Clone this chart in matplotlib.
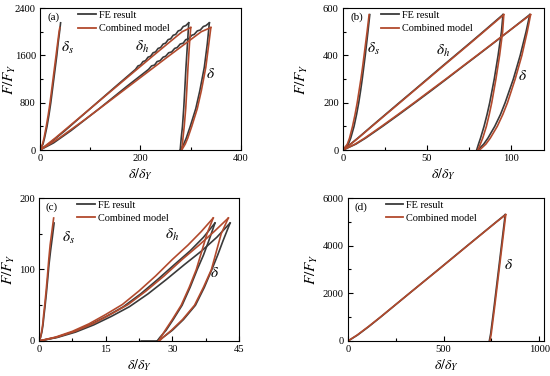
import matplotlib
matplotlib.use('Agg')
import matplotlib.pyplot as plt
from matplotlib.ticker import MultipleLocator

plt.rcParams['font.family'] = ['Liberation Serif', 'DejaVu Serif']
plt.rcParams['mathtext.fontset'] = 'stix'

FE_COLOR = '#3a3a3a'
MODEL_COLOR = '#b24a2d'

# ---------------- Panel (a) ----------------
a_F_FE = [0, 100, 200, 400, 600, 800, 1000, 1200, 1400, 1600, 1800, 2000, 2150]
a_ds_FE = [0, 6, 9, 14, 18, 21.5, 24.5, 27.5, 30.5, 33.5, 36, 39, 41]
a_F_M = [0, 100, 200, 400, 600, 800, 1000, 1200, 1400, 1600, 1800, 2000, 2070]
a_ds_M = [0, 5, 8, 12.5, 16.5, 20, 23, 26, 29, 32, 35, 38, 39.5]

a_F_FE_load = [0, 120, 330, 700, 1070, 1362, 1421, 1436, 1495, 1510, 1569, 1584, 1643, 1658,
               1717, 1732, 1791, 1806, 1865, 1880, 1939, 1954, 2013, 2028, 2087, 2102, 2150]
a_dh_FE_load = [0, 20, 50, 100, 150, 190, 195, 200, 205, 210, 215, 220, 225, 230, 235, 240,
                245, 250, 255, 260, 265, 270, 275, 280, 285, 290, 296]
a_d_FE_load = [0, 27, 62, 118, 172, 216, 222, 228, 233, 239, 245, 250, 256, 262, 268, 273,
               279, 285, 290, 296, 302, 307, 313, 319, 325, 330, 337]
a_F_M_load = [0, 200, 500, 800, 1200, 1600, 2000, 2070]
a_dh_M_load = [0, 30, 72, 114, 170, 226, 283, 300]
a_d_M_load = [0, 38, 87, 134, 196, 258, 321, 340]

a_Fu_FE = [2150, 1800, 1400, 1000, 700, 400, 200, 100, 0]
a_dh_FE_unl = [296, 293.5, 290.5, 288, 286, 283.5, 281, 280, 279]
a_d_FE_unl = [337, 333, 327, 318, 310, 299, 291, 286, 279]
a_Fu_M = [2070, 1800, 1400, 1000, 700, 400, 200, 100, 0]
a_dh_M_unl = [300, 297.5, 294.5, 292, 290, 287, 284.5, 283.5, 282]
a_d_M_unl = [340, 336, 330, 321, 313, 302, 294, 289, 282]

# ---------------- Panel (b) ----------------
b_F = [0, 25, 50, 100, 150, 200, 250, 300, 350, 400, 450, 500, 572]
b_ds_FE = [0, 3.2, 4.6, 6.6, 8.1, 9.4, 10.5, 11.5, 12.4, 13.3, 14.1, 14.9, 16.0]
b_ds_M = [0, 2.6, 3.9, 5.7, 7.2, 8.5, 9.6, 10.7, 11.7, 12.6, 13.5, 14.4, 15.6]
b_dh_FE_load = [0, 4.5, 8.8, 17, 25.3, 33.6, 42, 50.3, 58.6, 67, 75.4, 83.7, 95.5]
b_dh_M_load = [0, 4.6, 9, 17.3, 25.6, 34, 42.3, 50.7, 59, 67.4, 75.8, 84.1, 96]
b_d_FE_load = [0, 7.7, 13.4, 23.6, 33.4, 43, 52.5, 61.8, 71, 80.3, 89.5, 98.6, 111.5]
b_d_M_load = [0, 7.2, 12.9, 23, 32.8, 42.5, 51.9, 61.4, 70.7, 80, 89.3, 98.5, 112]
b_Fu = [572, 500, 400, 300, 200, 150, 100, 50, 25, 0]
b_dh_FE_unl = [95.5, 94.6, 92.6, 90.3, 87.6, 86, 84.2, 82.1, 80.9, 79.8]
b_dh_M_unl = [96, 95.3, 93.5, 91.3, 88.8, 87.3, 85.6, 83.4, 82.0, 80.5]
b_d_FE_unl = [111.5, 109.3, 105.8, 101.7, 96.8, 94, 90.6, 86.5, 84.0, 80.5]
b_d_M_unl = [112, 110, 106.8, 102.8, 98.2, 95.4, 92.1, 87.9, 85.3, 81.5]

# ---------------- Panel (c) ----------------
c_F_FE = [0, 5, 12.5, 22.5, 34.5, 48, 66, 86, 107, 126, 145, 165]
c_ds_FE = [0, 0.35, 0.65, 0.9, 1.1, 1.35, 1.65, 1.95, 2.25, 2.6, 3.0, 3.4]
c_dh_FE_load = [0, 3.8, 7.6, 11.4, 15.2, 19, 22.9, 26.7, 30.5, 34, 37, 39.6]
c_d_FE_load = [0, 4.15, 8.25, 12.3, 16.3, 20.35, 24.55, 28.65, 32.75, 36.6, 40, 43.0]
c_F_M = [0, 5.5, 13.5, 24, 37, 51, 70, 91, 114, 134, 153, 172]
c_ds_M = [0, 0.35, 0.6, 0.85, 1.05, 1.3, 1.6, 1.9, 2.2, 2.5, 2.9, 3.3]
c_dh_M_load = [0, 3.75, 7.5, 11.25, 15, 18.75, 22.5, 26.25, 30, 33.5, 36.5, 39.2]
c_d_M_load = [0, 4.1, 8.1, 12.1, 16.05, 20.05, 24.1, 28.15, 32.2, 36.0, 39.4, 42.6]

c_Fu_FE_dh = [165, 140, 120, 100, 75, 50, 30, 15, 5, 0, 0]
c_dh_FE_unl = [39.6, 38.2, 37.0, 35.6, 34.0, 32.2, 30.2, 28.6, 27.2, 26.6, 23.0]
c_Fu_FE = [165, 140, 120, 100, 75, 50, 30, 15, 5, 0]
c_d_FE_unl = [43.0, 41.4, 40.2, 38.9, 37.2, 35.2, 32.5, 30.0, 27.9, 26.6]
c_Fu_M = [172, 150, 125, 100, 75, 50, 30, 15, 5, 0]
c_dh_M_unl = [39.2, 37.8, 36.6, 35.4, 33.8, 32.0, 30.0, 28.4, 27.4, 26.9]
c_d_M_unl = [42.6, 41.0, 39.9, 38.8, 37.0, 35.0, 32.3, 29.8, 27.9, 27.1]

# ---------------- Panel (d) ----------------
d_F = [0, 250, 600, 1000, 2000, 3000, 4000, 5000, 5300]
d_FE_load = [0, 50, 108, 170, 321, 473, 624, 776, 822]
d_M_load = [0, 48, 106, 169, 321, 474, 625, 777, 825]
d_Fu = [5300, 4500, 3500, 2500, 1500, 800, 300, 0]
d_FE_unl = [822, 810, 795, 780, 765, 754, 746, 739]
d_M_unl = [825, 813, 798, 783, 768, 757, 749, 742]

fig = plt.figure(figsize=(5.5, 3.76), dpi=100)

rects = {
    'a': [0.0727, 0.601, 0.3655, 0.3777],
    'b': [0.6236, 0.601, 0.3655, 0.3777],
    'c': [0.0709, 0.0931, 0.3636, 0.3803],
    'd': [0.6327, 0.0931, 0.3564, 0.3803],
}
ylabel_x = {'a': -0.11, 'b': -0.165, 'c': -0.11, 'd': -0.145}

LW = 1.2
TICK_FS = 7.6
LEG_FS = 7.4


def style(ax, key, xlim, xmaj, ylim, ymaj):
    ax.set_xlim(*xlim)
    ax.set_ylim(*ylim)
    ax.xaxis.set_major_locator(MultipleLocator(xmaj))
    ax.xaxis.set_minor_locator(MultipleLocator(xmaj / 2))
    ax.yaxis.set_major_locator(MultipleLocator(ymaj))
    ax.yaxis.set_minor_locator(MultipleLocator(ymaj / 2))
    ax.tick_params(which='both', direction='in', top=False, right=False,
                   labelsize=TICK_FS, pad=3)
    ax.tick_params(which='major', length=3.5, width=0.8)
    ax.tick_params(which='minor', length=2, width=0.8)
    for s in ax.spines.values():
        s.set_linewidth(0.8)
    ax.set_xlabel(r'$\delta/\delta_Y$', fontsize=10, labelpad=2)
    ax.set_ylabel(r'$F/F_Y$', fontsize=11)
    ax.yaxis.set_label_coords(ylabel_x[key], 0.5)
    ax.text(0.035, 0.935, '(' + key + ')', transform=ax.transAxes, fontsize=8,
            va='center', ha='left')
    ax.legend(handles=[plt.Line2D([], [], color=FE_COLOR, lw=1.3),
                       plt.Line2D([], [], color=MODEL_COLOR, lw=1.3)],
              labels=['FE result', 'Combined model'],
              loc='upper left', bbox_to_anchor=(0.16, 1.025), frameon=False,
              fontsize=LEG_FS, handlelength=1.7, handletextpad=0.3, labelspacing=0.4,
              borderaxespad=0.2)


# (a)
ax = fig.add_axes(rects['a'])
ax.plot(a_ds_FE, a_F_FE, color=FE_COLOR, lw=LW)
ax.plot(a_dh_FE_load, a_F_FE_load, color=FE_COLOR, lw=LW)
ax.plot(a_d_FE_load, a_F_FE_load, color=FE_COLOR, lw=LW)
ax.plot(a_dh_FE_unl, a_Fu_FE, color=FE_COLOR, lw=LW)
ax.plot(a_d_FE_unl, a_Fu_FE, color=FE_COLOR, lw=LW)
ax.plot(a_ds_M, a_F_M, color=MODEL_COLOR, lw=LW)
ax.plot(a_dh_M_load, a_F_M_load, color=MODEL_COLOR, lw=LW)
ax.plot(a_d_M_load, a_F_M_load, color=MODEL_COLOR, lw=LW)
ax.plot(a_dh_M_unl, a_Fu_M, color=MODEL_COLOR, lw=LW)
ax.plot(a_d_M_unl, a_Fu_M, color=MODEL_COLOR, lw=LW)
style(ax, 'a', (0, 400), 200, (0, 2400), 800)
ax.text(54, 1720, r'$\delta_s$', fontsize=11, ha='center', va='center')
ax.text(203, 1740, r'$\delta_h$', fontsize=11, ha='center', va='center')
ax.text(340, 1283, r'$\delta$', fontsize=11, ha='center', va='center')

# (b)
ax = fig.add_axes(rects['b'])
ax.plot(b_ds_FE, b_F, color=FE_COLOR, lw=LW)
ax.plot(b_dh_FE_load, b_F, color=FE_COLOR, lw=LW)
ax.plot(b_d_FE_load, b_F, color=FE_COLOR, lw=LW)
ax.plot(b_dh_FE_unl, b_Fu, color=FE_COLOR, lw=LW)
ax.plot(b_d_FE_unl, b_Fu, color=FE_COLOR, lw=LW)
ax.plot(b_ds_M, b_F, color=MODEL_COLOR, lw=LW)
ax.plot(b_dh_M_load, b_F, color=MODEL_COLOR, lw=LW)
ax.plot(b_d_M_load, b_F, color=MODEL_COLOR, lw=LW)
ax.plot(b_dh_M_unl, b_Fu, color=MODEL_COLOR, lw=LW)
ax.plot(b_d_M_unl, b_Fu, color=MODEL_COLOR, lw=LW)
style(ax, 'b', (0, 120), 50, (0, 600), 200)
ax.text(18, 428, r'$\delta_s$', fontsize=11, ha='center', va='center')
ax.text(60, 420, r'$\delta_h$', fontsize=11, ha='center', va='center')
ax.text(107, 311, r'$\delta$', fontsize=11, ha='center', va='center')

# (c)
ax = fig.add_axes(rects['c'])
ax.plot(c_ds_FE, c_F_FE, color=FE_COLOR, lw=LW)
ax.plot(c_dh_FE_load, c_F_FE, color=FE_COLOR, lw=LW)
ax.plot(c_d_FE_load, c_F_FE, color=FE_COLOR, lw=LW)
ax.plot(c_dh_FE_unl, c_Fu_FE_dh, color=FE_COLOR, lw=LW)
ax.plot(c_d_FE_unl, c_Fu_FE, color=FE_COLOR, lw=LW)
ax.plot(c_ds_M, c_F_M, color=MODEL_COLOR, lw=LW)
ax.plot(c_dh_M_load, c_F_M, color=MODEL_COLOR, lw=LW)
ax.plot(c_d_M_load, c_F_M, color=MODEL_COLOR, lw=LW)
ax.plot(c_dh_M_unl, c_Fu_M, color=MODEL_COLOR, lw=LW)
ax.plot(c_d_M_unl, c_Fu_M, color=MODEL_COLOR, lw=LW)
style(ax, 'c', (0, 45), 15, (0, 200), 100)
ax.text(6.6, 144, r'$\delta_s$', fontsize=11, ha='center', va='center')
ax.text(29.9, 149, r'$\delta_h$', fontsize=11, ha='center', va='center')
ax.text(39.6, 95, r'$\delta$', fontsize=11, ha='center', va='center')

# (d)
ax = fig.add_axes(rects['d'])
ax.plot(d_FE_load, d_F, color=FE_COLOR, lw=LW)
ax.plot(d_FE_unl, d_Fu, color=FE_COLOR, lw=LW)
ax.plot(d_M_load, d_F, color=MODEL_COLOR, lw=LW)
ax.plot(d_M_unl, d_Fu, color=MODEL_COLOR, lw=LW)
style(ax, 'd', (0, 1025), 500, (0, 6000), 2000)
ax.text(840, 3200, r'$\delta$', fontsize=11, ha='center', va='center')

fig.savefig('out.png', dpi=100)
